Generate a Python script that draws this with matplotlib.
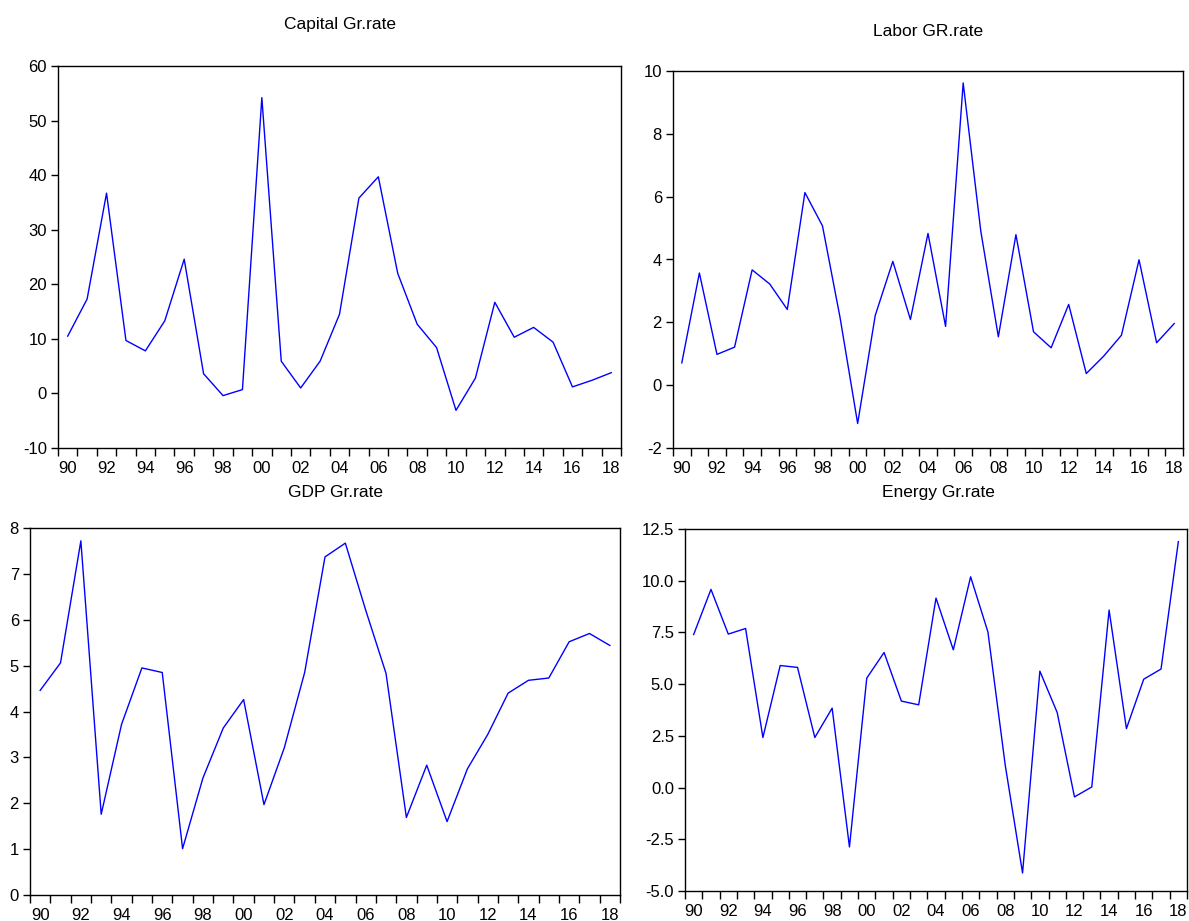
import numpy as np
import matplotlib
matplotlib.use("Agg")
import matplotlib.pyplot as plt
from matplotlib.ticker import FormatStrFormatter

plt.rcParams['font.family'] = ['Liberation Sans', 'DejaVu Sans']
plt.rcParams['axes.unicode_minus'] = False

# data: annual growth rates 1990-2018
years = list(range(1990, 2019))

capital = [10.5, 17.3, 36.7, 9.7, 7.8, 13.3, 24.6, 3.6, -0.4, 0.7,
           54.2, 5.9, 1.0, 5.9, 14.5, 35.8, 39.7, 22.0, 12.7, 8.4,
           -3.1, 2.8, 16.7, 10.3, 12.1, 9.4, 1.2, 2.4, 3.8]

labor = [0.71, 3.57, 0.98, 1.21, 3.67, 3.22, 2.41, 6.13, 5.07, 2.15,
         -1.22, 2.22, 3.94, 2.09, 4.83, 1.87, 9.62, 4.91, 1.54, 4.79,
         1.70, 1.19, 2.57, 0.37, 0.93, 1.59, 3.99, 1.35, 1.96]

gdp = [4.46, 5.06, 7.72, 1.76, 3.72, 4.95, 4.85, 1.01, 2.55, 3.64,
       4.26, 1.97, 3.21, 4.85, 7.37, 7.67, 6.21, 4.83, 1.69, 2.83,
       1.60, 2.75, 3.50, 4.40, 4.68, 4.73, 5.52, 5.70, 5.44]

energy = [7.40, 9.58, 7.42, 7.69, 2.42, 5.90, 5.81, 2.42, 3.84, -2.87,
          5.29, 6.53, 4.18, 4.00, 9.16, 6.66, 10.19, 7.52, 1.08, -4.13,
          5.63, 3.63, -0.45, 0.03, 8.58, 2.85, 5.24, 5.73, 11.89]

year_labels = [str(y)[2:] for y in years[::2]]

W, H = 1189, 921


def px_axes(fig, left, top, right, bottom):
    # pixel box -> figure fraction
    return fig.add_axes([left / W, 1 - bottom / H, (right - left) / W, (bottom - top) / H])


def draw_panel(ax, vals, ylim, ystep, fmt=None):
    ax.plot(years, vals, color='#0000ff', lw=1.0)
    ax.set_xlim(years[0] - 0.5, years[-1] + 0.5)
    ax.set_ylim(*ylim)
    # ticks sit between years, labels on the years
    ax.set_xticks(np.arange(years[0] - 0.5, years[-1] + 1.0, 1.0))
    ax.set_xticklabels([])
    ax.set_xticks(years[::2], minor=True)
    ax.set_xticklabels(year_labels, minor=True)
    ax.tick_params(axis='x', which='major', direction='out', length=6, width=1)
    ax.tick_params(axis='x', which='minor', length=0, pad=9, labelsize=12)
    ax.set_yticks(np.arange(ylim[0], ylim[1] + ystep / 2, ystep))
    ax.tick_params(axis='y', direction='out', length=5, width=1, pad=3, labelsize=12)
    if fmt:
        ax.yaxis.set_major_formatter(FormatStrFormatter(fmt))
    for s in ax.spines.values():
        s.set_linewidth(1.0)


fig = plt.figure(figsize=(W / 100, H / 100), dpi=100)

ax1 = px_axes(fig, 58, 66, 621, 448)
draw_panel(ax1, capital, (-10, 60), 10)
fig.text(340 / W, 1 - 25 / H, 'Capital Gr.rate', ha='center', va='center', fontsize=12.5)

ax2 = px_axes(fig, 673, 71, 1183, 448)
draw_panel(ax2, labor, (-2, 10), 2)
fig.text(928 / W, 1 - 32 / H, 'Labor GR.rate', ha='center', va='center', fontsize=12.5)

ax3 = px_axes(fig, 30, 528, 620, 895)
draw_panel(ax3, gdp, (0, 8), 1)
fig.text(335 / W, 1 - 492 / H, 'GDP Gr.rate', ha='center', va='center', fontsize=12.5)

ax4 = px_axes(fig, 685, 529, 1187, 891)
draw_panel(ax4, energy, (-5, 12.5), 2.5, '%.1f')
fig.text(938 / W, 1 - 492 / H, 'Energy Gr.rate', ha='center', va='center', fontsize=12.5)

fig.savefig('out.png', dpi=100)
